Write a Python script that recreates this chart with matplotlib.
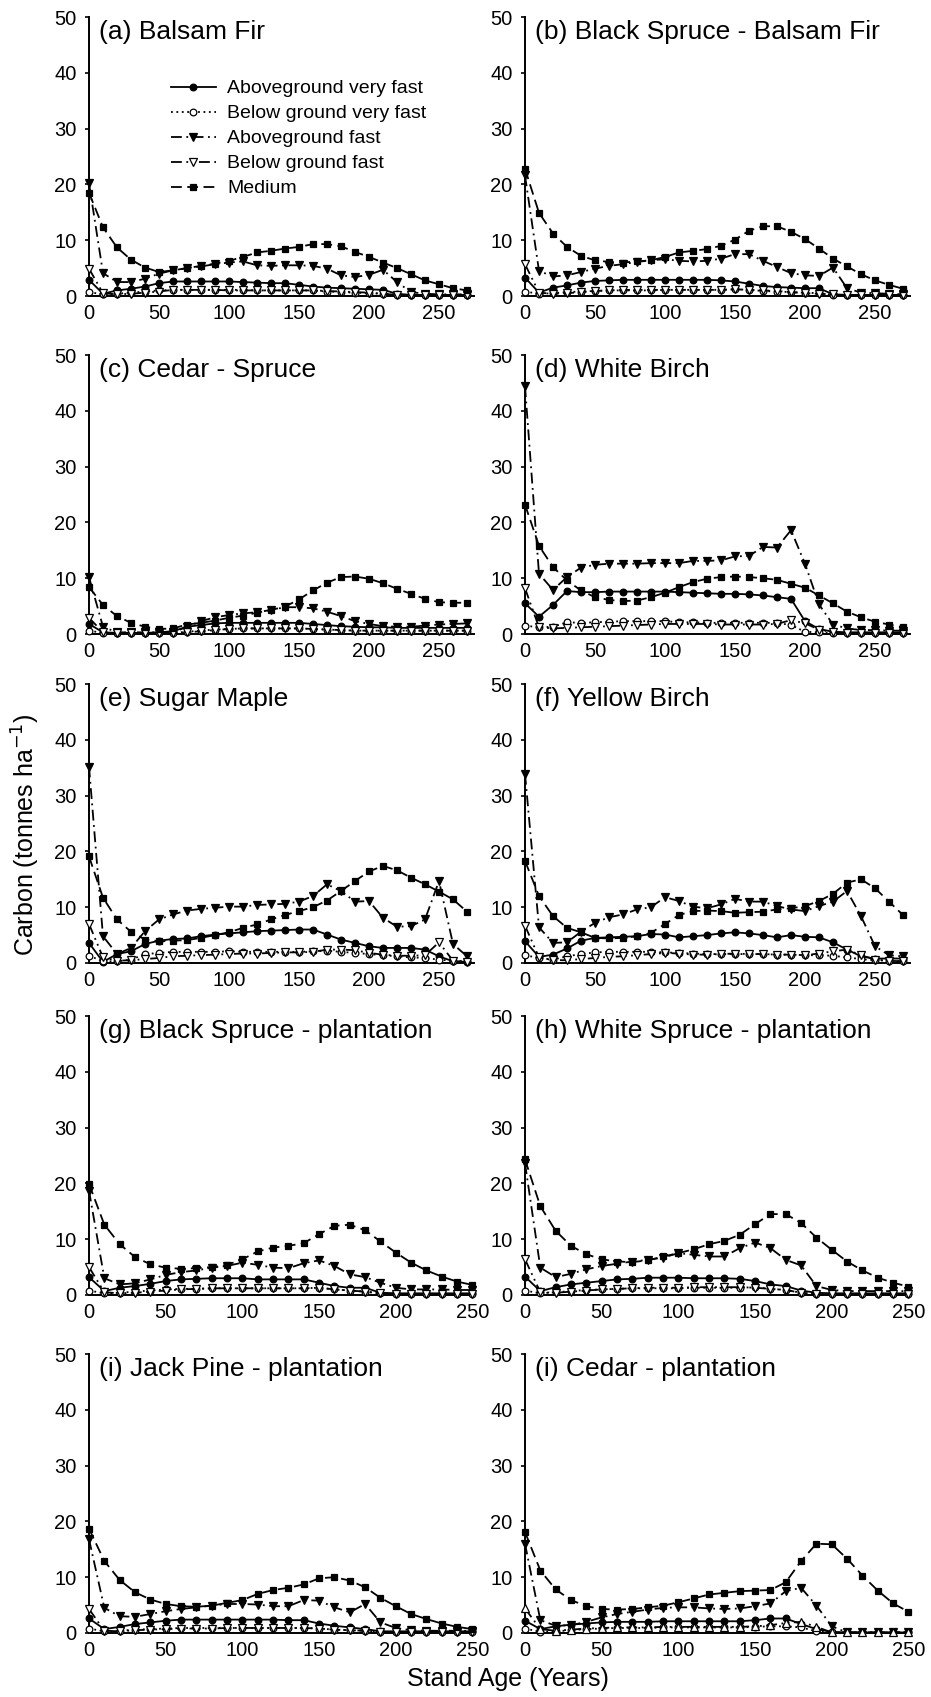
import numpy as np
import matplotlib
matplotlib.use("Agg")
import matplotlib.pyplot as plt

plt.rcParams['font.family'] = ['Liberation Sans', 'DejaVu Sans']

# Stand ages (years)
ages_nat = list(range(0, 280, 10))    # natural stands, 0-270
ages_plt = list(range(0, 260, 10))    # plantations, 0-250

series_names = ['Aboveground very fast', 'Below ground very fast',
                'Aboveground fast', 'Below ground fast', 'Medium']

# (a) Balsam Fir
a_agvf = [2.9, 0.4, 1.0, 1.3, 1.7, 2.3, 2.6, 2.6, 2.6, 2.6, 2.6, 2.5, 2.4, 2.3, 2.3, 2.0, 1.7, 1.5, 1.4, 1.3, 1.2, 1.1, 0.4, 0.2, 0.2, 0.2, 0.2, 0.2]
a_bgvf = [0.7, 0.3, 0.4, 0.6, 0.8, 1.0, 1.1, 1.1, 1.1, 1.1, 1.1, 1.1, 1.0, 1.0, 1.0, 1.0, 1.0, 0.8, 0.7, 0.6, 0.5, 0.4, 0.2, 0.1, 0.1, 0.1, 0.1, 0.1]
a_agf = [20.2, 4.1, 2.5, 2.5, 3.1, 4.0, 4.6, 5.0, 5.3, 5.7, 6.0, 6.2, 5.5, 5.4, 5.5, 5.5, 5.4, 4.9, 3.7, 3.4, 3.8, 4.7, 2.5, 0.7, 0.4, 0.3, 0.3, 0.3]
a_bgf = [4.9, 0.5, 0.3, 0.4, 0.6, 0.8, 1.1, 1.1, 1.1, 1.1, 1.0, 1.0, 1.0, 1.0, 1.0, 1.0, 1.0, 0.9, 0.8, 0.7, 0.6, 0.4, 0.2, 0.1, 0.1, 0.1, 0.1, 0.1]
a_med = [18.5, 12.3, 8.7, 6.5, 5.1, 4.3, 4.6, 5.0, 5.4, 5.8, 6.3, 7.0, 7.8, 8.1, 8.5, 8.8, 9.3, 9.3, 8.9, 7.9, 7.0, 6.0, 5.0, 3.9, 2.8, 2.1, 1.4, 1.0]

# (b) Black Spruce - Balsam Fir
b_agvf = [3.3, 0.6, 1.5, 1.9, 2.4, 2.7, 2.8, 2.9, 2.9, 2.9, 2.9, 2.9, 2.9, 2.9, 2.8, 2.6, 2.2, 1.8, 1.6, 1.5, 1.4, 1.4, 0.3, 0.2, 0.2, 0.2, 0.2, 0.2]
b_bgvf = [0.8, 0.4, 0.5, 0.7, 0.8, 0.9, 1.0, 1.0, 1.0, 1.0, 1.1, 1.1, 1.1, 1.1, 1.1, 1.2, 1.1, 0.9, 0.8, 0.7, 0.6, 0.5, 0.2, 0.1, 0.1, 0.1, 0.1, 0.1]
b_agf = [21.6, 4.5, 3.5, 3.7, 4.3, 4.9, 5.4, 5.7, 6.1, 6.4, 6.6, 6.3, 6.2, 6.3, 6.7, 7.5, 7.5, 6.3, 5.2, 4.1, 3.7, 3.6, 5.1, 1.4, 0.6, 0.5, 0.4, 0.3]
b_bgf = [5.7, 0.6, 0.4, 0.5, 0.7, 0.9, 1.0, 1.1, 1.1, 1.1, 1.1, 1.1, 1.1, 1.1, 1.1, 1.2, 1.1, 1.0, 0.9, 0.7, 0.5, 0.4, 0.3, 0.1, 0.1, 0.1, 0.1, 0.1]
b_med = [22.8, 14.9, 11.2, 8.8, 7.2, 6.4, 6.1, 6.0, 6.2, 6.4, 7.0, 7.8, 8.1, 8.4, 9.0, 10.1, 11.7, 12.5, 12.5, 11.5, 10.2, 8.5, 6.7, 5.3, 3.9, 2.8, 2.0, 1.3]

# (c) Cedar - Spruce
c_agvf = [1.8, 0.3, 0.2, 0.2, 0.2, 0.3, 0.5, 1.3, 1.6, 1.9, 2.0, 2.0, 2.0, 2.0, 2.0, 2.0, 1.8, 1.6, 1.4, 1.3, 1.2, 1.2, 1.1, 1.1, 1.1, 1.1, 1.1, 1.1]
c_bgvf = [0.6, 0.2, 0.1, 0.1, 0.1, 0.1, 0.2, 0.4, 0.6, 0.8, 0.9, 1.0, 1.0, 1.0, 1.0, 1.0, 0.9, 0.8, 0.7, 0.6, 0.6, 0.6, 0.6, 0.6, 0.6, 0.6, 0.6, 0.6]
c_agf = [10.2, 1.3, 0.3, 0.3, 0.3, 0.3, 0.3, 1.3, 2.3, 3.0, 3.4, 3.7, 3.9, 4.3, 4.8, 4.8, 4.6, 4.0, 3.2, 2.3, 1.8, 1.4, 1.3, 1.3, 1.5, 1.7, 1.8, 1.9]
c_bgf = [2.9, 0.3, 0.1, 0.1, 0.1, 0.1, 0.1, 0.3, 0.5, 0.7, 0.9, 1.0, 1.0, 1.0, 1.0, 1.0, 0.9, 0.8, 0.7, 0.6, 0.6, 0.6, 0.6, 0.6, 0.6, 0.6, 0.6, 0.6]
c_med = [8.4, 5.2, 3.2, 2.0, 1.3, 0.9, 1.0, 1.7, 2.0, 2.4, 2.9, 3.3, 3.8, 4.3, 4.9, 6.2, 7.8, 9.2, 10.2, 10.3, 9.9, 9.1, 8.1, 7.2, 6.3, 5.7, 5.6, 5.6]

# (d) White Birch
d_agvf = [5.5, 3.1, 5.2, 7.7, 7.5, 7.5, 7.6, 7.6, 7.6, 7.6, 7.6, 7.5, 7.4, 7.3, 7.2, 7.2, 7.1, 6.9, 6.6, 6.3, 2.3, 0.9, 0.4, 0.3, 0.3, 0.3, 0.3, 0.3]
d_bgvf = [1.5, 1.2, 1.3, 2.1, 2.0, 2.1, 2.2, 2.3, 2.3, 2.3, 2.3, 2.1, 2.1, 2.0, 2.0, 2.0, 2.0, 2.0, 2.0, 1.6, 0.4, 0.3, 0.1, 0.1, 0.1, 0.1, 0.1, 0.1]
d_agf = [44.4, 10.8, 7.9, 10.2, 11.9, 12.4, 12.6, 12.6, 12.6, 12.7, 12.7, 12.7, 13.1, 13.1, 13.2, 13.9, 14.0, 15.6, 15.5, 18.6, 12.6, 5.3, 1.7, 1.0, 0.7, 0.7, 0.6, 0.6]
d_bgf = [8.2, 1.2, 1.0, 1.1, 1.2, 1.3, 1.4, 1.5, 1.6, 1.7, 1.8, 1.8, 1.8, 1.8, 1.7, 1.7, 1.7, 1.7, 1.8, 2.5, 1.9, 0.8, 0.3, 0.2, 0.2, 0.2, 0.2, 0.2]
d_med = [23.2, 15.8, 12.0, 9.6, 7.8, 6.6, 6.1, 5.9, 6.0, 6.6, 7.4, 8.4, 9.3, 9.9, 10.2, 10.3, 10.2, 10.0, 9.7, 9.0, 8.3, 6.9, 5.5, 4.0, 3.0, 2.2, 1.7, 1.2]

# (e) Sugar Maple
e_agvf = [3.6, 0.2, 1.6, 2.1, 3.4, 4.0, 4.3, 4.4, 4.8, 5.1, 5.3, 5.5, 5.7, 5.8, 5.9, 6.0, 6.0, 5.1, 4.2, 3.6, 3.0, 2.7, 2.7, 2.7, 2.4, 1.2, 0.3, 0.2]
e_bgvf = [1.3, 0.3, 0.3, 0.6, 1.6, 1.8, 2.0, 2.0, 2.0, 2.0, 2.1, 2.0, 2.0, 2.0, 2.0, 2.0, 2.1, 2.2, 2.0, 1.8, 1.6, 1.4, 1.2, 1.0, 0.9, 0.6, 0.4, 0.3]
e_agf = [35.2, 4.8, 1.6, 2.7, 5.7, 7.8, 8.7, 9.4, 9.7, 9.9, 10.1, 10.1, 10.4, 10.5, 10.6, 11.0, 12.0, 14.1, 12.9, 11.0, 11.1, 8.1, 6.5, 6.6, 7.8, 14.7, 3.4, 1.2]
e_bgf = [7.0, 1.0, 0.4, 0.5, 0.7, 0.9, 1.2, 1.3, 1.4, 1.5, 1.6, 1.7, 1.7, 1.8, 1.9, 1.9, 2.0, 2.4, 2.4, 2.3, 1.8, 1.5, 1.3, 1.3, 1.4, 3.7, 0.4, 0.2]
e_med = [19.1, 11.7, 7.8, 5.6, 4.2, 3.9, 4.0, 4.1, 4.5, 5.0, 5.5, 6.3, 6.9, 7.8, 8.6, 9.3, 10.0, 11.2, 12.9, 14.7, 16.4, 17.4, 16.6, 15.3, 14.1, 12.8, 11.4, 9.2]

# (f) Yellow Birch
f_agvf = [3.9, 1.1, 1.5, 2.6, 4.0, 4.5, 4.6, 4.7, 4.8, 5.2, 5.1, 4.6, 4.8, 5.0, 5.3, 5.5, 5.3, 5.0, 4.6, 5.0, 4.7, 4.6, 3.7, 2.4, 1.2, 0.8, 0.8, 0.8]
f_bgvf = [1.4, 0.9, 0.6, 1.2, 1.6, 1.9, 2.0, 2.0, 2.0, 2.0, 1.9, 1.8, 1.7, 1.6, 1.6, 1.6, 1.6, 1.6, 1.5, 1.5, 1.4, 1.4, 1.3, 1.0, 0.7, 0.5, 0.4, 0.3]
f_agf = [33.9, 6.4, 3.6, 3.7, 5.6, 7.2, 8.2, 8.7, 9.6, 10.0, 11.8, 11.1, 10.1, 9.8, 10.5, 11.5, 11.0, 11.0, 10.2, 9.6, 9.3, 10.2, 11.0, 12.9, 8.4, 3.0, 1.4, 1.2]
f_bgf = [6.7, 1.0, 0.5, 0.5, 0.7, 0.9, 1.1, 1.2, 1.4, 1.6, 1.8, 1.7, 1.5, 1.5, 1.6, 1.7, 1.6, 1.6, 1.5, 1.5, 1.4, 1.7, 2.1, 2.4, 1.4, 0.6, 0.4, 0.3]
f_med = [18.3, 12.0, 8.4, 6.3, 5.5, 4.5, 4.4, 4.5, 4.8, 5.4, 7.0, 8.6, 9.3, 9.4, 9.3, 9.0, 9.1, 9.2, 9.6, 9.8, 10.2, 11.1, 12.4, 14.4, 15.0, 13.4, 11.0, 8.6]

# (g) Black Spruce - plantation
g_agvf = [3.2, 0.7, 1.3, 1.6, 2.0, 2.5, 2.8, 2.9, 3.0, 3.0, 3.0, 2.8, 2.8, 2.8, 2.8, 2.2, 1.6, 1.3, 1.3, 0.4, 0.3, 0.3, 0.3, 0.3, 0.3, 0.3]
g_bgvf = [0.8, 0.3, 0.4, 0.6, 0.8, 1.0, 1.1, 1.1, 1.2, 1.2, 1.2, 1.2, 1.2, 1.2, 1.2, 1.3, 1.0, 0.8, 0.6, 0.3, 0.2, 0.2, 0.2, 0.2, 0.2, 0.2]
g_agf = [18.7, 3.0, 1.9, 2.1, 2.8, 3.6, 4.1, 4.4, 4.9, 5.2, 5.8, 5.4, 4.9, 4.8, 5.7, 6.2, 5.2, 3.7, 3.2, 2.2, 1.3, 1.0, 1.0, 1.0, 0.9, 0.9]
g_bgf = [5.0, 0.5, 0.3, 0.4, 0.6, 0.8, 1.0, 1.1, 1.2, 1.2, 1.2, 1.2, 1.2, 1.2, 1.2, 1.3, 1.0, 0.8, 0.6, 0.3, 0.2, 0.2, 0.2, 0.2, 0.2, 0.2]
g_med = [19.9, 12.6, 9.1, 6.8, 5.5, 4.9, 4.7, 4.8, 5.0, 5.4, 6.4, 7.8, 8.5, 8.8, 9.3, 10.9, 12.4, 12.6, 11.6, 9.6, 7.6, 5.8, 4.4, 3.3, 2.4, 1.8]

# (h) White Spruce - plantation
h_agvf = [3.3, 0.7, 1.4, 1.9, 2.2, 2.5, 2.8, 2.9, 3.1, 3.1, 3.1, 3.0, 3.0, 3.0, 2.9, 2.5, 1.9, 1.6, 0.8, 0.4, 0.3, 0.3, 0.3, 0.3, 0.3, 0.3]
h_bgvf = [0.8, 0.3, 0.5, 0.7, 0.9, 1.0, 1.1, 1.2, 1.2, 1.2, 1.2, 1.3, 1.3, 1.3, 1.3, 1.4, 1.1, 0.9, 0.4, 0.2, 0.1, 0.1, 0.1, 0.1, 0.1, 0.1]
h_agf = [23.6, 4.9, 3.2, 3.8, 4.6, 5.2, 5.6, 6.0, 6.3, 6.7, 7.5, 7.2, 6.9, 6.9, 8.4, 9.4, 8.4, 6.3, 5.3, 1.6, 0.9, 0.7, 0.7, 0.7, 0.7, 0.7]
h_bgf = [6.4, 0.5, 0.4, 0.6, 0.8, 1.0, 1.1, 1.2, 1.3, 1.3, 1.3, 1.4, 1.4, 1.4, 1.4, 1.3, 1.1, 0.9, 0.4, 0.1, 0.1, 0.1, 0.1, 0.1, 0.1, 0.1]
h_med = [24.3, 15.9, 11.5, 8.8, 7.3, 6.4, 6.0, 5.9, 6.2, 6.9, 7.5, 8.2, 9.1, 9.7, 10.8, 12.7, 14.5, 14.5, 12.9, 10.3, 8.1, 6.0, 4.4, 3.1, 2.2, 1.5]

# (i) Jack Pine - plantation
i_agvf = [2.6, 0.7, 1.1, 1.6, 1.9, 2.2, 2.4, 2.4, 2.4, 2.4, 2.4, 2.4, 2.4, 2.3, 2.3, 1.7, 1.3, 1.0, 0.7, 0.3, 0.3, 0.3, 0.3, 0.3, 0.3, 0.3]
i_bgvf = [0.8, 0.3, 0.4, 0.6, 0.7, 0.8, 0.9, 0.9, 0.9, 0.9, 0.9, 0.9, 0.9, 0.9, 0.9, 0.8, 0.6, 0.5, 0.4, 0.1, 0.1, 0.1, 0.1, 0.1, 0.1, 0.1]
i_agf = [16.8, 4.5, 3.0, 2.9, 3.4, 3.9, 4.3, 4.6, 4.9, 5.2, 5.2, 5.1, 4.8, 4.8, 5.9, 5.8, 4.6, 3.7, 5.2, 1.9, 0.9, 0.5, 0.4, 0.4, 0.4, 0.4]
i_bgf = [4.3, 0.4, 0.3, 0.5, 0.6, 0.7, 0.8, 0.8, 0.8, 0.9, 0.9, 0.9, 0.9, 0.9, 0.9, 0.8, 0.6, 0.5, 0.4, 0.1, 0.1, 0.1, 0.1, 0.1, 0.1, 0.1]
i_med = [18.7, 12.9, 9.5, 7.3, 6.0, 5.2, 4.8, 4.7, 4.9, 5.4, 5.9, 7.0, 7.7, 8.1, 8.7, 9.8, 10.0, 9.4, 8.2, 6.3, 4.8, 3.4, 2.5, 1.7, 1.1, 0.7]

# (i) Cedar - plantation (last panel)
j_agvf = [2.2, 0.7, 1.2, 1.5, 1.7, 1.9, 2.0, 2.0, 2.0, 2.1, 2.1, 2.1, 2.1, 2.1, 2.1, 2.3, 2.6, 2.6, 1.6, 0.7, 0.2, 0.1, 0.1, 0.1, 0.1, 0.1]
j_bgvf = [0.8, 0.2, 0.3, 0.5, 0.7, 0.8, 0.9, 0.9, 0.9, 1.0, 1.0, 1.0, 1.0, 1.0, 1.0, 1.1, 1.2, 1.2, 1.0, 0.3, 0.1, 0.1, 0.1, 0.1, 0.1, 0.1]
j_agf = [16.0, 2.3, 1.3, 1.4, 2.0, 2.8, 3.4, 3.8, 4.2, 4.5, 4.6, 4.6, 4.4, 4.3, 4.4, 4.8, 5.3, 7.5, 8.1, 4.9, 1.2, 0.1, 0.1, 0.1, 0.1, 0.1]
j_bgf = [4.4, 0.7, 0.4, 0.6, 0.8, 0.9, 1.0, 1.0, 1.0, 1.1, 1.1, 1.1, 1.1, 1.1, 1.1, 1.2, 1.4, 1.8, 2.0, 1.1, 0.1, 0.1, 0.1, 0.1, 0.1, 0.1]
j_med = [18.1, 11.2, 7.8, 5.9, 4.8, 4.3, 4.2, 4.3, 4.6, 4.9, 5.5, 6.2, 6.9, 7.2, 7.5, 7.6, 7.7, 9.1, 12.9, 16.0, 15.9, 13.3, 10.3, 7.6, 5.3, 3.8]

panels = [
    ('(a) Balsam Fir', ages_nat, [a_agvf, a_bgvf, a_agf, a_bgf, a_med]),
    ('(b) Black Spruce - Balsam Fir', ages_nat, [b_agvf, b_bgvf, b_agf, b_bgf, b_med]),
    ('(c) Cedar - Spruce', ages_nat, [c_agvf, c_bgvf, c_agf, c_bgf, c_med]),
    ('(d) White Birch', ages_nat, [d_agvf, d_bgvf, d_agf, d_bgf, d_med]),
    ('(e) Sugar Maple', ages_nat, [e_agvf, e_bgvf, e_agf, e_bgf, e_med]),
    ('(f) Yellow Birch', ages_nat, [f_agvf, f_bgvf, f_agf, f_bgf, f_med]),
    ('(g) Black Spruce - plantation', ages_plt, [g_agvf, g_bgvf, g_agf, g_bgf, g_med]),
    ('(h) White Spruce - plantation', ages_plt, [h_agvf, h_bgvf, h_agf, h_bgf, h_med]),
    ('(i) Jack Pine - plantation', ages_plt, [i_agvf, i_bgvf, i_agf, i_bgf, i_med]),
    ('(i) Cedar - plantation', ages_plt, [j_agvf, j_bgvf, j_agf, j_bgf, j_med]),
]

# line styles: solid / dotted / long dash-dot / long dash-dot-dot / long dash
styles = [
    dict(ls='-', marker='o', mfc='black', ms=4.8),
    dict(ls=(0, (1, 2)), marker='o', mfc='white', ms=4.8),
    dict(ls=(0, (6, 2.5, 1, 2.5)), marker='v', mfc='black', ms=5.6),
    dict(ls=(0, (6, 2.5, 1, 2.5, 1, 2.5)), marker='v', mfc='white', ms=5.6),
    dict(ls=(0, (6, 3)), marker='s', mfc='black', ms=4.6),
]

fig = plt.figure(figsize=(9.31, 16.97), dpi=100)

lefts = [89 / 931, 525 / 931]
width = 385 / 931
height = 279 / 1697
bottoms = [1 - 296 / 1697, 1 - 634 / 1697, 1 - 963 / 1697, 1 - 1295 / 1697, 1 - 1633 / 1697]

for k, (title, ages, vals) in enumerate(panels):
    ax = fig.add_axes([lefts[k % 2], bottoms[k // 2], width, height])
    for j, (y, st) in enumerate(zip(vals, styles)):
        st = dict(st)
        if k == 9 and j == 3:
            st['marker'] = '^'   # open triangles point up in the last panel
        ax.plot(ages, y, color='black', lw=1.3, mec='black', mew=0.9,
                label=series_names[j], clip_on=False, zorder=3 + j, **st)
    xmax = 275 if ages is ages_nat else 251
    ax.set_xlim(0, xmax)
    ax.set_ylim(0, 50)
    ax.set_yticks(range(0, 51, 10))
    ax.set_xticks(range(0, 251, 50))
    for s in ['top', 'right']:
        ax.spines[s].set_visible(False)
    for s in ['left', 'bottom']:
        ax.spines[s].set_linewidth(1.4)
    ax.tick_params(axis='y', direction='out', length=3, width=1.2, pad=6, labelsize=14.5)
    ax.tick_params(axis='x', length=0, pad=6, labelsize=14.5)
    ax.text(0.025, 0.945, title, transform=ax.transAxes, fontsize=19,
            ha='left', va='center')
    if k == 0:
        ax.legend(loc='upper left', bbox_to_anchor=(0.213, 0.775), frameon=False,
                  fontsize=14, handlelength=2.3, handletextpad=0.6,
                  labelspacing=0.38, borderpad=0, borderaxespad=0)

fig.text(0.028, 0.508, 'Carbon (tonnes ha$^{-1}$)', rotation=90,
         ha='center', va='center', fontsize=18)
fig.text(0.546, 0.0105, 'Stand Age (Years)', ha='center', va='center', fontsize=18)

fig.savefig('out.png', dpi=100)
